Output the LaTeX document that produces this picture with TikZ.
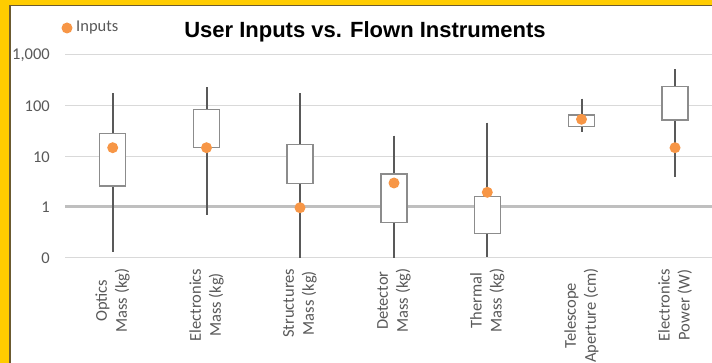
\documentclass[tikz,border=0pt]{standalone}
\usepackage{fontspec}
\setmainfont{Carlito}
\newfontfamily\titlefont{Liberation Sans}
\definecolor{frameyellow}{HTML}{FFCC00}
\definecolor{framedark}{HTML}{6B5A30}
\definecolor{txtgrey}{HTML}{595959}
\definecolor{gridgrey}{HTML}{D9D9D9}
\definecolor{onegrey}{HTML}{BFBFBF}
\definecolor{whiskgrey}{HTML}{595959}
\definecolor{boxgrey}{HTML}{8C8C8C}
\definecolor{dotorange}{HTML}{F79646}
\tikzset{
  gridline/.style={draw=gridgrey, line width=1pt},
  oneline/.style={draw=onegrey, line width=3pt},
  whisker/.style={draw=whiskgrey, line width=2pt},
  boxrect/.style={draw=boxgrey, fill=white, line width=1.2pt},
  inputdot/.style={circle, fill=dotorange, inner sep=0pt, minimum size=11pt},
  ylab/.style={anchor=east, inner sep=0pt, text=txtgrey, font=\fontsize{16.5}{20}\selectfont},
  catlab/.style={rotate=90, anchor=east, inner sep=0pt, align=center, text=txtgrey, font=\fontsize{16.5}{20}\selectfont},
}
\newcommand\bxplot[7]{%
  % name, x, whisker top, box top, box bottom, whisker bottom, dot
  \coordinate (#1wt) at (#2,#3);
  \coordinate (#1wb) at (#2,#6);
  \draw[whisker] (#1wt) -- (#1wb);
  \draw[boxrect] (#2-13,#4) rectangle (#2+13,#5);
  \node[inputdot] (#1dot) at (#2,#7) {};
}
\begin{document}
\begin{tikzpicture}[x=1pt,y=-1pt]
\useasboundingbox (0,0) rectangle (712,363);
\fill[white] (0,0) rectangle (712,363);
% frame
\fill[frameyellow] (0,0) rectangle (712,5);
\fill[frameyellow] (0,0) rectangle (9,363);
\fill[framedark] (9,5) rectangle (712,6.5);
\fill[framedark] (9,5) rectangle (11,363);
% gridlines
\coordinate (gl0) at (65,258); \coordinate (gr0) at (712,258);
\coordinate (gl10) at (65,157); \coordinate (gr10) at (712,157);
\coordinate (gl100) at (65,106); \coordinate (gr100) at (712,106);
\coordinate (gl1000) at (65,55); \coordinate (gr1000) at (712,55);
\coordinate (gl1) at (65,207); \coordinate (gr1) at (712,207);
\draw[gridline] (gl0) -- (gr0);
\draw[gridline] (gl10) -- (gr10);
\draw[gridline] (gl100) -- (gr100);
\draw[gridline] (gl1000) -- (gr1000);
\draw[oneline] (gl1) -- (gr1);
% y labels
\node[ylab] (y1000) at (50,55) {1,000};
\node[ylab] (y100) at (50,106) {100};
\node[ylab] (y10) at (50,157) {10};
\node[ylab] (y1) at (50,207) {1};
\node[ylab] (y0) at (50,258) {0};
% title and legend
\node[inner sep=0pt, font=\titlefont\bfseries\fontsize{22}{26}\selectfont] (title) at (365,32) {User Inputs vs. Flown Instruments};
\node[inputdot] (legdot) at (67,28) {};
\node[anchor=west, inner sep=0pt, text=txtgrey, font=\fontsize{16.5}{20}\selectfont] (legtxt) at (76,28) {Inputs};
% box plots
\bxplot{opt}{112.7}{93.3}{133.3}{186}{251.7}{147.7}
\bxplot{elm}{206.5}{87.3}{109.3}{147.3}{215}{147.7}
\bxplot{str}{300}{93.3}{144.3}{183.3}{258}{207.7}
\bxplot{det}{394}{135.7}{174}{222.3}{258}{183}
\bxplot{thm}{487.3}{122.7}{196.5}{233.7}{257}{192.3}
\bxplot{tel}{581.5}{98.7}{115}{126.7}{132.3}{119.3}
\bxplot{elp}{675}{69.3}{86.7}{120}{176.7}{147.7}
% category labels
\node[catlab] (lopt) at (112.7,268.5) {Optics\\Mass (kg)};
\node[catlab] (lelm) at (206.5,268.5) {Electronics\\Mass (kg)};
\node[catlab] (lstr) at (300,268.5) {Structures\\Mass (kg)};
\node[catlab] (ldet) at (394,268.5) {Detector\\Mass (kg)};
\node[catlab] (lthm) at (487.3,268.5) {Thermal\\Mass (kg)};
\node[catlab] (ltel) at (581.5,268.5) {Telescope\\Aperture (cm)};
\node[catlab] (lelp) at (675,268.5) {Electronics\\Power (W)};
\end{tikzpicture}
\end{document}
